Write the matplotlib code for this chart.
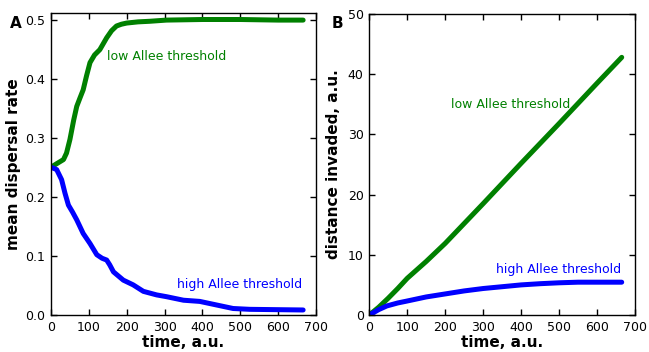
import matplotlib
matplotlib.use("Agg")
import matplotlib.pyplot as plt
import numpy as np

# Panel A: mean dispersal rate
t_low_a = [0, 15, 33, 41, 50, 60, 68, 77, 85, 94, 103, 115, 129, 147, 160, 173, 186, 200, 230, 261, 305, 400, 500, 600, 666]
v_low_a = [0.25, 0.256, 0.263, 0.274, 0.297, 0.33, 0.353, 0.368, 0.381, 0.405, 0.427, 0.44, 0.449, 0.469, 0.481, 0.489, 0.492, 0.494, 0.496, 0.497, 0.499, 0.5, 0.5, 0.499, 0.499]

t_high_a = [0, 15, 28, 37, 46, 57, 68, 85, 103, 121, 135, 147, 155, 165, 191, 217, 244, 279, 305, 350, 393, 437, 481, 525, 600, 666]
v_high_a = [0.25, 0.246, 0.229, 0.206, 0.186, 0.174, 0.161, 0.138, 0.121, 0.102, 0.096, 0.093, 0.085, 0.073, 0.059, 0.051, 0.040, 0.034, 0.031, 0.025, 0.023, 0.017, 0.011, 0.0096, 0.009, 0.0085]

# Panel B: distance invaded
t_low_b = [0, 25, 50, 75, 100, 150, 200, 300, 400, 500, 600, 665]
v_low_b = [0, 1.3, 2.8, 4.4, 6.1, 8.9, 11.9, 18.5, 25.2, 31.8, 38.5, 42.8]

t_high_b = [0, 25, 46, 75, 98, 150, 200, 250, 300, 350, 400, 450, 500, 550, 600, 665]
v_high_b = [0, 0.9, 1.5, 2.0, 2.3, 3.0, 3.5, 4.0, 4.4, 4.7, 5.0, 5.2, 5.35, 5.45, 5.45, 5.45]

xticks = [0, 100, 200, 300, 400, 500, 600, 700]
yticks_a = [0.0, 0.1, 0.2, 0.3, 0.4, 0.5]
yticks_b = [0, 10, 20, 30, 40, 50]

GREEN = "#008000"
BLUE = "#0000ff"

fig = plt.figure(figsize=(6.49, 3.52), dpi=100)
W, H = 649, 352
axA = fig.add_axes([51 / W, 1 - 315 / H, (316 - 51) / W, (315 - 13) / H])
axB = fig.add_axes([369.3 / W, 1 - 315 / H, (635 - 369.3) / W, (315 - 14) / H])

lw = 3.6
axA.plot(t_low_a, v_low_a, color=GREEN, lw=lw, solid_capstyle="round", solid_joinstyle="round")
axA.plot(t_high_a, v_high_a, color=BLUE, lw=lw, solid_capstyle="round", solid_joinstyle="round")
axB.plot(t_low_b, v_low_b, color=GREEN, lw=lw, solid_capstyle="round", solid_joinstyle="round")
axB.plot(t_high_b, v_high_b, color=BLUE, lw=lw, solid_capstyle="round", solid_joinstyle="round")

axA.set_xlim(0, 700)
axA.set_ylim(0, 0.511)
axA.set_yticks(yticks_a)
axA.set_yticklabels(["0.0", "0.1", "0.2", "0.3", "0.4", "0.5"])
axB.set_xlim(0, 700)
axB.set_ylim(0, 50)
axB.set_yticks(yticks_b)

for ax in (axA, axB):
    ax.set_xticks(xticks)
    ax.tick_params(direction="in", top=True, right=True, length=4, width=1,
                   labelsize=9, pad=4)
    for s in ax.spines.values():
        s.set_linewidth(1)
    ax.set_xlabel("time, a.u.", fontsize=11, fontweight="bold", labelpad=1)

axA.set_ylabel("mean dispersal rate", fontsize=11, fontweight="bold", labelpad=3)
axB.set_ylabel("distance invaded, a.u.", fontsize=11, fontweight="bold", labelpad=5)

axA.text(148, 0.437, "low Allee threshold", color=GREEN, fontsize=9, va="center", ha="left")
axA.text(333, 0.051, "high Allee threshold", color=BLUE, fontsize=9, va="center", ha="left")
axB.text(215, 35.0, "low Allee threshold", color=GREEN, fontsize=9, va="center", ha="left")
axB.text(334, 7.6, "high Allee threshold", color=BLUE, fontsize=9, va="center", ha="left")

fig.text(16 / W, 1 - 23 / H, "A", fontsize=11, fontweight="bold", ha="center", va="center")
fig.text(337 / W, 1 - 23 / H, "B", fontsize=11, fontweight="bold", ha="center", va="center")

fig.savefig("out.png", dpi=100)
